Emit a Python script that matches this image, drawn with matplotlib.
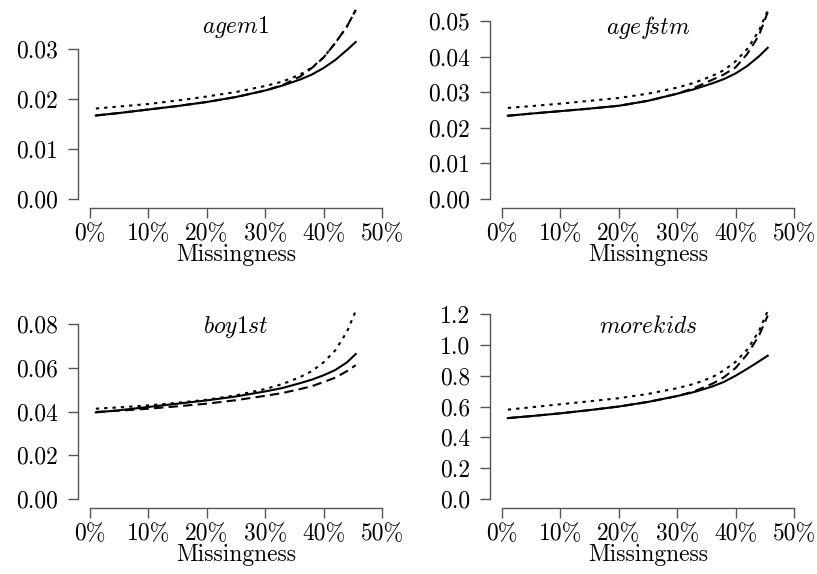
import numpy as np
import matplotlib
matplotlib.use("Agg")
import matplotlib.pyplot as plt
from matplotlib.ticker import PercentFormatter, FormatStrFormatter

plt.rcParams.update({'font.family': 'cmr10',
                     'mathtext.fontset': 'cm',
                     'axes.formatter.use_mathtext': True,
                     'axes.unicode_minus': False,
                     'font.size': 17})

# missingness share
miss = [0.01, 0.05, 0.10, 0.15, 0.20, 0.25, 0.30, 0.33, 0.36, 0.38, 0.40, 0.42, 0.44, 0.455]

agem1_solid = [0.0167, 0.0172, 0.0179, 0.0186, 0.0194, 0.0204, 0.0217, 0.0227, 0.0239, 0.0249, 0.0262, 0.0278, 0.0298, 0.0314]
agem1_dash = [0.0167, 0.0172, 0.0179, 0.0186, 0.0194, 0.0204, 0.0217, 0.0228, 0.0245, 0.0262, 0.0283, 0.0312, 0.0345, 0.0378]
agem1_dot = [0.0181, 0.0185, 0.0190, 0.0197, 0.0205, 0.0214, 0.0226, 0.0235, 0.0249, 0.0263, 0.0283, 0.0312, 0.0345, 0.0378]

agefstm_solid = [0.0234, 0.0240, 0.0247, 0.0254, 0.0262, 0.0276, 0.0296, 0.0309, 0.0325, 0.0337, 0.0353, 0.0374, 0.0401, 0.0425]
agefstm_dash = [0.0234, 0.0240, 0.0247, 0.0254, 0.0262, 0.0276, 0.0296, 0.0313, 0.0335, 0.0350, 0.0370, 0.0408, 0.0460, 0.0525]
agefstm_dot = [0.0256, 0.0261, 0.0268, 0.0276, 0.0284, 0.0296, 0.0313, 0.0327, 0.0346, 0.0362, 0.0387, 0.0422, 0.0473, 0.0530]

boy1st_solid = [0.0396, 0.0406, 0.0421, 0.0436, 0.0451, 0.0469, 0.0492, 0.0508, 0.0530, 0.0546, 0.0566, 0.0590, 0.0625, 0.0663]
boy1st_dash = [0.0398, 0.0404, 0.0413, 0.0424, 0.0436, 0.0452, 0.0472, 0.0485, 0.0503, 0.0516, 0.0535, 0.0555, 0.0585, 0.0612]
boy1st_dot = [0.0413, 0.0419, 0.0428, 0.0440, 0.0454, 0.0474, 0.0503, 0.0526, 0.0558, 0.0585, 0.0625, 0.0680, 0.0765, 0.0860]

morekids_solid = [0.525, 0.538, 0.556, 0.577, 0.600, 0.630, 0.668, 0.695, 0.730, 0.760, 0.800, 0.845, 0.893, 0.930]
morekids_dash = [0.525, 0.538, 0.556, 0.577, 0.600, 0.630, 0.668, 0.700, 0.748, 0.790, 0.850, 0.940, 1.060, 1.190]
morekids_dot = [0.580, 0.595, 0.615, 0.634, 0.654, 0.682, 0.719, 0.748, 0.790, 0.835, 0.890, 0.970, 1.090, 1.220]

titles = [r'$agem1$', r'$agef\!stm$', r'$boy1st$', r'$morekids$']
series = [(agem1_solid, agem1_dash, agem1_dot),
          (agefstm_solid, agefstm_dash, agefstm_dot),
          (boy1st_solid, boy1st_dash, boy1st_dot),
          (morekids_solid, morekids_dash, morekids_dot)]
yticks = [[0, 0.01, 0.02, 0.03],
          [0, 0.01, 0.02, 0.03, 0.04, 0.05],
          [0, 0.02, 0.04, 0.06, 0.08],
          [0, 0.2, 0.4, 0.6, 0.8, 1.0, 1.2]]
ytop = [0.038, 0.0534, 0.0869, 1.233]
yfmt = ['%.2f', '%.2f', '%.2f', '%.1f']
xticks = [0, 0.1, 0.2, 0.3, 0.4, 0.5]

W, H = 817, 574
fig = plt.figure(figsize=(W / 100, H / 100), dpi=100)
lefts = [90, 502, 90, 502]
bottoms = [199, 199, 499, 499]
spine_col = '#555555'

for i in range(4):
    ax = fig.add_axes([lefts[i] / W, (H - bottoms[i]) / H, 292 / W, 190 / H])
    s, d, o = series[i]
    ax.plot(miss, s, color='black', lw=1.5, ls='-')
    ax.plot(miss, d, color='black', lw=1.5, ls=(0, (4.5, 2.5)))
    ax.plot(miss, o, color='black', lw=1.5, ls=(0, (1.6, 2.4)))
    ax.set_xlim(0, 0.5)
    ax.set_ylim(0, ytop[i])
    ax.set_xticks(xticks)
    ax.set_yticks(yticks[i])
    ax.xaxis.set_major_formatter(PercentFormatter(xmax=1, decimals=0))
    ax.yaxis.set_major_formatter(FormatStrFormatter(yfmt[i]))
    for side in ['top', 'right']:
        ax.spines[side].set_visible(False)
    ax.spines['left'].set_position(('outward', 9))
    ax.spines['bottom'].set_position(('outward', 6.5))
    ax.spines['left'].set_bounds(yticks[i][0], yticks[i][-1])
    ax.spines['bottom'].set_bounds(0, 0.5)
    for side in ['left', 'bottom']:
        ax.spines[side].set_color(spine_col)
        ax.spines[side].set_linewidth(1.0)
    ax.tick_params(length=7, width=1.0, color=spine_col, labelsize=17)
    ax.tick_params(axis='x', pad=4)
    ax.tick_params(axis='y', pad=7)
    ax.set_xlabel('Missingness', fontsize=17, labelpad=-1)
    ax.text(0.5, 0.905, titles[i], transform=ax.transAxes,
            ha='center', va='center', fontsize=17)

plt.savefig('out.png', dpi=100)
